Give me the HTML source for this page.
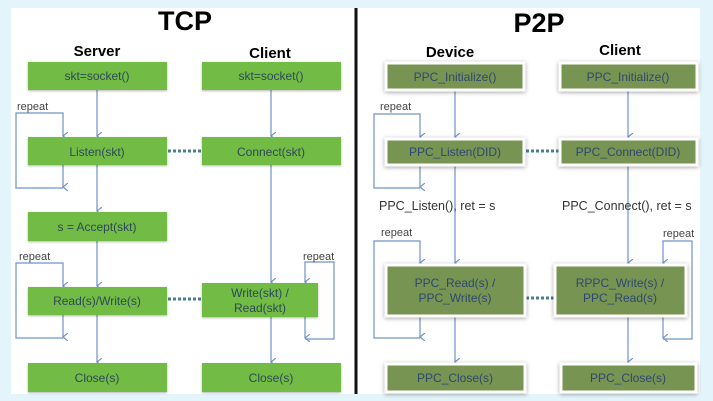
<!DOCTYPE html>
<html><head><meta charset="utf-8"><style>
html,body{margin:0;padding:0;background:#e3f5fb;}
svg{display:block;font-family:"Liberation Sans",sans-serif;}
.g{fill:#72bb45;filter:drop-shadow(0 1px 1px rgba(0,0,0,.3));}
.d{fill:#789452;stroke:#fff;stroke-width:3;filter:drop-shadow(0 1px 2px rgba(0,0,0,.35));}
.t{font-size:12px;fill:#2d4a58;text-anchor:middle;}
.td{font-size:12px;fill:#2e4870;text-anchor:middle;}
.l{stroke:#6f93c6;stroke-width:1.2;fill:none;}
.dot{stroke:#4a7f90;stroke-width:3;stroke-dasharray:3 2;}
.h{font-weight:bold;fill:#000;text-anchor:middle;}
.r{font-size:11px;fill:#444;}
</style></head><body>
<svg width="713" height="401" viewBox="0 0 713 401">
<defs><marker id="a" markerWidth="8" markerHeight="6" refX="4" refY="5" orient="auto-start-reverse" markerUnits="userSpaceOnUse"><path d="M0,0 L4,5 L8,0" fill="none" stroke="#6f93c6" stroke-width="1.2"/></marker></defs>
<rect x="11" y="8" width="689" height="386" fill="#fff"/>
<line x1="356" y1="8" x2="356" y2="394" stroke="#111" stroke-width="3"/>

<text x="185" y="30" class="h" font-size="27">TCP</text>
<text x="97" y="56" class="h" font-size="15">Server</text>
<text x="270" y="58" class="h" font-size="15">Client</text>
<text x="539" y="32" class="h" font-size="27">P2P</text>
<text x="450" y="57" class="h" font-size="15">Device</text>
<text x="620" y="55" class="h" font-size="15">Client</text>

<!-- TCP lines -->
<line class="l" x1="97" y1="90" x2="97" y2="136" marker-end="url(#a)"/>
<line class="l" x1="97" y1="165" x2="97" y2="211" marker-end="url(#a)"/>
<line class="l" x1="97" y1="241" x2="97" y2="286" marker-end="url(#a)"/>
<line class="l" x1="97" y1="315" x2="97" y2="362" marker-end="url(#a)"/>
<line class="l" x1="271" y1="90" x2="271" y2="136" marker-end="url(#a)"/>
<line class="l" x1="271" y1="165" x2="271" y2="282" marker-end="url(#a)"/>
<line class="l" x1="271" y1="317" x2="271" y2="362" marker-end="url(#a)"/>
<polyline class="l" points="63,188 16,188 16,113 63,113 63,136" marker-end="url(#a)"/>
<line class="l" x1="63" y1="165" x2="63" y2="187" marker-end="url(#a)"/>
<polyline class="l" points="63,338 16,338 16,263 63,263 63,286" marker-end="url(#a)"/>
<line class="l" x1="63" y1="315" x2="63" y2="337" marker-end="url(#a)"/>
<polyline class="l" points="305,339 334,339 334,262 305,262 305,282" marker-end="url(#a)"/>
<line class="l" x1="305" y1="317" x2="305" y2="338" marker-end="url(#a)"/>
<text x="17" y="110" class="r">repeat</text>
<text x="19" y="260" class="r">repeat</text>
<text x="303" y="260" class="r">repeat</text>
<line class="dot" x1="168" y1="151" x2="202" y2="151"/>
<line class="dot" x1="168" y1="299" x2="202" y2="299"/>

<rect class="g" x="28" y="62" width="139" height="28"/><text class="t" x="97" y="80">skt=socket()</text>
<rect class="g" x="202" y="62" width="139" height="28"/><text class="t" x="271" y="80">skt=socket()</text>
<rect class="g" x="28" y="137" width="139" height="28"/><text class="t" x="97" y="156">Listen(skt)</text>
<rect class="g" x="202" y="137" width="139" height="28"/><text class="t" x="271" y="156">Connect(skt)</text>
<rect class="g" x="28" y="212" width="139" height="29"/><text class="t" x="97" y="231">s = Accept(skt)</text>
<rect class="g" x="28" y="287" width="139" height="28"/><text class="t" x="97" y="305">Read(s)/Write(s)</text>
<rect class="g" x="202" y="283" width="116" height="34"/><text class="t" x="260" y="297">Write(skt) /</text><text class="t" x="260" y="312">Read(skt)</text>
<rect class="g" x="28" y="363" width="139" height="29"/><text class="t" x="97" y="382">Close(s)</text>
<rect class="g" x="202" y="363" width="139" height="29"/><text class="t" x="271" y="382">Close(s)</text>

<!-- P2P lines -->
<line class="l" x1="455" y1="91" x2="455" y2="137" marker-end="url(#a)"/>
<line class="l" x1="455" y1="166" x2="455" y2="263" marker-end="url(#a)"/>
<line class="l" x1="455" y1="317" x2="455" y2="362" marker-end="url(#a)"/>
<line class="l" x1="628" y1="91" x2="628" y2="137" marker-end="url(#a)"/>
<line class="l" x1="628" y1="166" x2="628" y2="263" marker-end="url(#a)"/>
<line class="l" x1="628" y1="317" x2="628" y2="362" marker-end="url(#a)"/>
<polyline class="l" points="420,188 374,188 374,114 420,114 420,137" marker-end="url(#a)"/>
<line class="l" x1="420" y1="166" x2="420" y2="187" marker-end="url(#a)"/>
<polyline class="l" points="420,338 374,338 374,241 420,241 420,263" marker-end="url(#a)"/>
<line class="l" x1="420" y1="317" x2="420" y2="337" marker-end="url(#a)"/>
<polyline class="l" points="663,339 692,339 692,241 663,241 663,263" marker-end="url(#a)"/>
<line class="l" x1="663" y1="317" x2="663" y2="338" marker-end="url(#a)"/>
<text x="380" y="110" class="r">repeat</text>
<text x="381" y="236" class="r">repeat</text>
<text x="663" y="237" class="r">repeat</text>
<text x="379" y="210" font-size="12.5" fill="#333">PPC_Listen(), ret = s</text>
<text x="562" y="210" font-size="12.5" fill="#333">PPC_Connect(), ret = s</text>
<line class="dot" x1="526" y1="151" x2="560" y2="151"/>
<line class="dot" x1="526" y1="298" x2="555" y2="298"/>

<rect class="d" x="386" y="63" width="138" height="27"/><text class="td" x="455" y="81">PPC_Initialize()</text>
<rect class="d" x="560" y="63" width="137" height="27"/><text class="td" x="628" y="81">PPC_Initialize()</text>
<rect class="d" x="386" y="139" width="138" height="26"/><text class="td" x="455" y="156">PPC_Listen(DID)</text>
<rect class="d" x="560" y="139" width="137" height="26"/><text class="td" x="628" y="156">PPC_Connect(DID)</text>
<rect class="d" x="386" y="265" width="139" height="51"/><text class="td" x="455" y="287">PPC_Read(s) /</text><text class="td" x="455" y="302">PPC_Write(s)</text>
<rect class="d" x="555" y="265" width="131" height="51"/><text class="td" x="620" y="287">RPPC_Write(s) /</text><text class="td" x="620" y="302">PPC_Read(s)</text>
<rect class="d" x="386" y="364" width="139" height="28"/><text class="td" x="455" y="382">PPC_Close(s)</text>
<rect class="d" x="561" y="364" width="135" height="28"/><text class="td" x="628" y="382">PPC_Close(s)</text>
</svg>
</body></html>
